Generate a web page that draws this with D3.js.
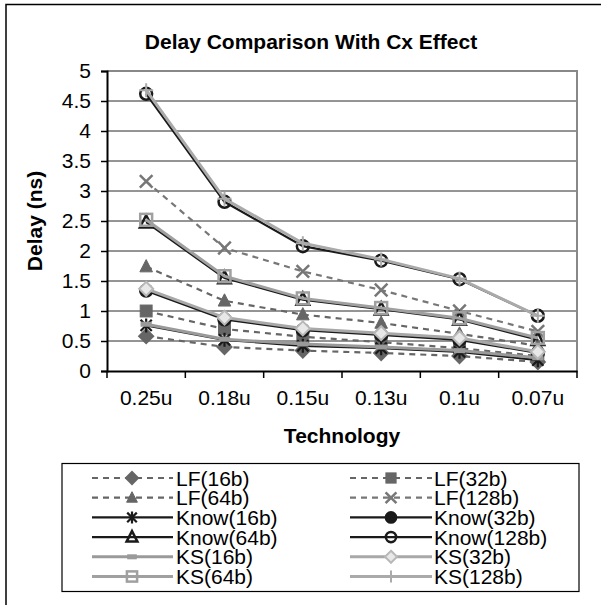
<!DOCTYPE html>
<html>
<head>
<meta charset="utf-8">
<script src="https://cdn.jsdelivr.net/npm/d3@7/dist/d3.min.js"></script>
<style>
  body { margin: 0; background: #fff; }
  svg { display: block; font-family: Arial, "Liberation Sans", sans-serif; }
</style>
</head>
<body>
<div id="chart"></div>
<script>
// data
var technologies = ['0.25u', '0.18u', '0.15u', '0.13u', '0.1u', '0.07u'];
var yTicks = [0, 0.5, 1, 1.5, 2, 2.5, 3, 3.5, 4, 4.5, 5];

var lf16    = [0.58, 0.40, 0.34, 0.30, 0.25, 0.15];
var lf32    = [1.00, 0.70, 0.57, 0.48, 0.38, 0.25];
var lf64    = [1.74, 1.17, 0.94, 0.80, 0.62, 0.42];
var lf128   = [3.16, 2.05, 1.66, 1.35, 1.00, 0.66];
var know16  = [0.76, 0.52, 0.42, 0.38, 0.32, 0.18];
var know32  = [1.34, 0.86, 0.68, 0.60, 0.52, 0.30];
var know64  = [2.48, 1.55, 1.19, 1.03, 0.86, 0.52];
var know128 = [4.62, 2.82, 2.08, 1.84, 1.53, 0.92];
var ks16    = [0.78, 0.53, 0.45, 0.40, 0.34, 0.22];
var ks32    = [1.37, 0.89, 0.71, 0.63, 0.55, 0.32];
var ks64    = [2.52, 1.58, 1.21, 1.05, 0.88, 0.55];
var ks128   = [4.68, 2.87, 2.13, 1.86, 1.54, 0.92];

var seriesNames = ['LF(16b)', 'LF(32b)', 'LF(64b)', 'LF(128b)',
                   'Know(16b)', 'Know(32b)', 'Know(64b)', 'Know(128b)',
                   'KS(16b)', 'KS(32b)', 'KS(64b)', 'KS(128b)'];
var seriesValues = [lf16, lf32, lf64, lf128, know16, know32, know64, know128,
                    ks16, ks32, ks64, ks128];

// look of each series (line colour, dash, marker)
var styles = [
  { line: '#666', dash: '6,5', marker: 'diamond',  fill: '#666', stroke: '#666' },
  { line: '#666', dash: '6,5', marker: 'square',   fill: '#666', stroke: '#666' },
  { line: '#666', dash: '6,5', marker: 'triangle', fill: '#666', stroke: '#666' },
  { line: '#777', dash: '6,5', marker: 'x',        fill: 'none', stroke: '#777' },
  { line: '#1a1a1a', dash: null, marker: 'star',   fill: 'none', stroke: '#1a1a1a' },
  { line: '#1a1a1a', dash: null, marker: 'circle', fill: '#1a1a1a', stroke: '#1a1a1a' },
  { line: '#1a1a1a', dash: null, marker: 'triangle', fill: 'none', stroke: '#1a1a1a' },
  { line: '#1a1a1a', dash: null, marker: 'circle', fill: 'none', stroke: '#1a1a1a' },
  { line: '#9a9a9a', dash: null, marker: 'bar',    fill: '#9a9a9a', stroke: '#9a9a9a' },
  { line: '#a8a8a8', dash: null, marker: 'diamond', fill: '#e8e8e8', stroke: '#b8b8b8' },
  { line: '#a0a0a0', dash: null, marker: 'square', fill: 'none', stroke: '#a0a0a0' },
  { line: '#aaaaaa', dash: null, marker: 'plus',   fill: 'none', stroke: '#aaaaaa' }
];

var width = 601, height = 605;
var plotLeft = 107, plotRight = 577, plotTop = 71, plotBottom = 371;

var svg = d3.select('#chart').append('svg')
  .attr('width', width)
  .attr('height', height);

// outer frame
svg.append('rect')
  .attr('x', 6).attr('y', 4.5)
  .attr('width', 640).attr('height', 640)
  .attr('fill', 'none').attr('stroke', '#000').attr('stroke-width', 1.5);

var x = d3.scaleBand().domain(technologies).range([plotLeft, plotRight]).padding(0);
var y = d3.scaleLinear().domain([0, 5]).range([plotBottom, plotTop]);
var cx = function (i) { return x(technologies[i]) + x.bandwidth() / 2; };

// gridlines
svg.append('g').selectAll('line')
  .data(yTicks.filter(function (d) { return d > 0 && d < 5; }))
  .enter().append('line')
  .attr('x1', plotLeft).attr('x2', plotRight)
  .attr('y1', function (d) { return y(d); })
  .attr('y2', function (d) { return y(d); })
  .attr('stroke', '#2a2a2a').attr('stroke-width', 1);

// plot frame (top and right in grey)
svg.append('path')
  .attr('d', 'M' + plotLeft + ',' + plotTop + 'H' + plotRight + 'V' + plotBottom)
  .attr('fill', 'none').attr('stroke', '#888').attr('stroke-width', 2);

// y axis
var yAxis = svg.append('g')
  .attr('transform', 'translate(' + plotLeft + ',0)')
  .call(d3.axisLeft(y).tickValues(yTicks).tickSize(6).tickPadding(10)
    .tickFormat(d3.format('')));
yAxis.select('.domain').attr('stroke', '#000').attr('stroke-width', 2);
yAxis.selectAll('.tick line').attr('stroke', '#000').attr('stroke-width', 1.5);
yAxis.selectAll('.tick text')
  .attr('font-size', 21).attr('fill', '#000')
  .attr('font-family', 'Arial, "Liberation Sans", sans-serif');

// x axis: labels in the middle of each band, ticks on the band edges
var xAxis = svg.append('g')
  .attr('transform', 'translate(0,' + plotBottom + ')')
  .call(d3.axisBottom(x).tickSize(0).tickPadding(19));
xAxis.select('.domain').attr('stroke', '#000').attr('stroke-width', 2);
xAxis.selectAll('.tick text')
  .attr('font-size', 21).attr('fill', '#000')
  .attr('font-family', 'Arial, "Liberation Sans", sans-serif');
svg.append('g').selectAll('line')
  .data(technologies.map(function (t) { return x(t); }).concat([plotRight]))
  .enter().append('line')
  .attr('x1', function (d) { return d; }).attr('x2', function (d) { return d; })
  .attr('y1', plotBottom).attr('y2', plotBottom + 7)
  .attr('stroke', '#000').attr('stroke-width', 1.5);

// markers
function drawMarker(g, type, st, size) {
  var s = size / 2;
  if (type === 'diamond') {
    g.append('path').attr('d', 'M0,' + (-s) + 'L' + s + ',0L0,' + s + 'L' + (-s) + ',0Z')
      .attr('fill', st.fill).attr('stroke', st.stroke).attr('stroke-width', 2);
  } else if (type === 'square') {
    var q = s * 0.85;
    g.append('rect').attr('x', -q).attr('y', -q).attr('width', 2 * q).attr('height', 2 * q)
      .attr('fill', st.fill).attr('stroke', st.stroke).attr('stroke-width', st.fill === 'none' ? 2.5 : 1);
  } else if (type === 'triangle') {
    g.append('path').attr('d', 'M0,' + (-s) + 'L' + (s * 0.9) + ',' + (s * 0.75) + 'L' + (-s * 0.9) + ',' + (s * 0.75) + 'Z')
      .attr('fill', st.fill).attr('stroke', st.stroke).attr('stroke-width', st.fill === 'none' ? 2.5 : 1);
  } else if (type === 'circle') {
    g.append('circle').attr('r', s * 0.85)
      .attr('fill', st.fill === 'none' ? 'none' : st.fill).attr('stroke', st.stroke).attr('stroke-width', 2.5);
  } else if (type === 'x') {
    var k = s * 0.9;
    g.append('path').attr('d', 'M' + (-k) + ',' + (-k) + 'L' + k + ',' + k + 'M' + k + ',' + (-k) + 'L' + (-k) + ',' + k)
      .attr('stroke', st.stroke).attr('stroke-width', 2.5);
  } else if (type === 'star') {
    var a = s * 0.8;
    g.append('path').attr('d', 'M' + (-a) + ',' + (-a) + 'L' + a + ',' + a + 'M' + a + ',' + (-a) + 'L' + (-a) + ',' + a +
      'M0,' + (-s) + 'V' + s)
      .attr('stroke', st.stroke).attr('stroke-width', 2.2);
  } else if (type === 'plus') {
    g.append('path').attr('d', 'M' + (-s) + ',0H' + s + 'M0,' + (-s) + 'V' + s)
      .attr('stroke', st.stroke).attr('stroke-width', 2);
  } else if (type === 'bar') {
    g.append('rect').attr('x', -s * 0.8).attr('y', -2.5).attr('width', s * 1.6).attr('height', 5)
      .attr('fill', st.fill);
  }
}

var line = d3.line()
  .x(function (d, i) { return cx(i); })
  .y(function (d) { return y(d); });

seriesValues.forEach(function (vals, k) {
  var st = styles[k];
  var g = svg.append('g');
  g.append('path')
    .attr('d', line(vals))
    .attr('fill', 'none')
    .attr('stroke', st.line)
    .attr('stroke-width', k >= 8 ? 3 : 2.2)
    .attr('stroke-dasharray', st.dash);
  vals.forEach(function (v, i) {
    var m = g.append('g').attr('transform', 'translate(' + cx(i) + ',' + y(v) + ')');
    drawMarker(m, st.marker, st, 14);
  });
});

// titles
svg.append('text')
  .attr('x', 311).attr('y', 49)
  .attr('text-anchor', 'middle')
  .attr('font-size', 21).attr('font-weight', 'bold')
  .text('Delay Comparison With Cx Effect');

svg.append('text')
  .attr('transform', 'translate(42,' + ((plotTop + plotBottom) / 2) + ') rotate(-90)')
  .attr('text-anchor', 'middle')
  .attr('font-size', 21).attr('font-weight', 'bold')
  .text('Delay (ns)');

svg.append('text')
  .attr('x', (plotLeft + plotRight) / 2).attr('y', 443)
  .attr('text-anchor', 'middle')
  .attr('font-size', 21).attr('font-weight', 'bold')
  .text('Technology');

// legend
svg.append('rect')
  .attr('x', 62).attr('y', 463.5)
  .attr('width', 517).attr('height', 128)
  .attr('fill', '#fff').attr('stroke', '#000').attr('stroke-width', 1.2);

var colX = [{ x1: 92, x2: 173, m: 132, t: 176 }, { x1: 350, x2: 432, m: 391, t: 434 }];
seriesNames.forEach(function (name, k) {
  var col = colX[k % 2];
  var row = Math.floor(k / 2);
  var ly = 478 + row * 19.7;
  var st = styles[k];
  var g = svg.append('g');
  g.append('line')
    .attr('x1', col.x1).attr('x2', col.x2)
    .attr('y1', ly).attr('y2', ly)
    .attr('stroke', st.line)
    .attr('stroke-width', k >= 8 ? 3 : 2.2)
    .attr('stroke-dasharray', st.dash);
  var m = g.append('g').attr('transform', 'translate(' + col.m + ',' + ly + ')');
  drawMarker(m, st.marker, st, 12);
  g.append('text')
    .attr('x', col.t).attr('y', ly + 7.5)
    .attr('font-size', 21)
    .text(name);
});
</script>
</body>
</html>
